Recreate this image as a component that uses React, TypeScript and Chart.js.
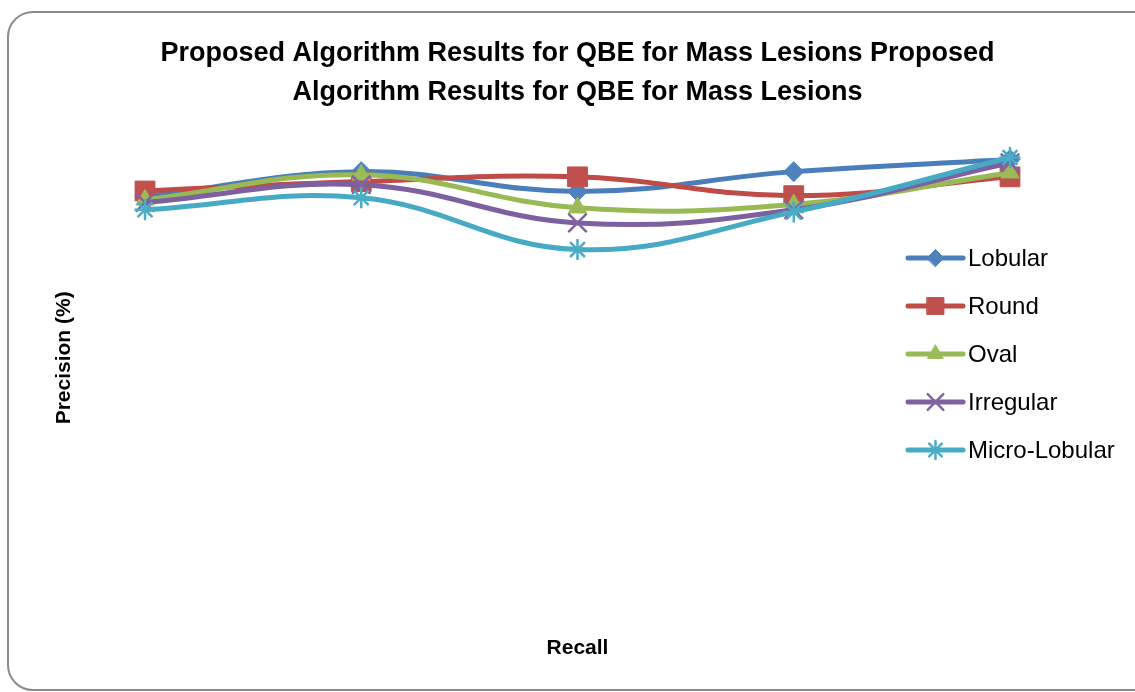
import React, { useEffect, useRef } from "react";
import { Chart, registerables } from "chart.js";
import { drawPoint } from "chart.js/helpers";

Chart.register(...registerables);

const titleLines = [
  "Proposed Algorithm Results for QBE for Mass Lesions Proposed",
  "Algorithm Results for QBE for Mass Lesions",
];
const xTitle = "Recall";
const yTitle = "Precision (%)";

const categories = ["1", "2", "3", "4", "5"];

const seriesNames = ["Lobular", "Round", "Oval", "Irregular", "Micro-Lobular"];
const lobular = [80.8, 85.6, 81.8, 85.6, 87.9];
const round = [81.9, 83.7, 84.6, 81.0, 84.6];
const oval = [80.2, 85.0, 78.7, 79.3, 85.4];
const irregular = [79.7, 83.1, 75.8, 78.3, 87.3];
const microLobular = [78.3, 80.6, 70.7, 77.9, 88.3];
const seriesValues = [lobular, round, oval, irregular, microLobular];

const lineColors = ["#4A7EBB", "#BE4B48", "#98B954", "#7D60A0", "#46AAC5"];
const markerColors = ["#4F81BD", "#C0504D", "#9BBB59", "#8064A2", "#4BACC6"];
const pointStyles = ["rectRot", "rect", "triangle", "crossRot", "star"];
const pointRadii = [10, 14, 10.5, 13, 10.5];
const pointBorderWidths = [1, 1, 1, 2.5, 2.5];

const FONT = "'Liberation Sans', Arial, sans-serif";

const customLegend = {
  id: "customLegend",
  afterDraw(chart: any) {
    const ctx = chart.ctx;
    const x0 = 900;
    const x1 = 955;
    const textX = 960;
    const y0 = 258;
    const step = 48;
    ctx.save();
    chart.data.datasets.forEach((ds: any, i: number) => {
      const y = y0 + step * i;
      ctx.strokeStyle = ds.borderColor;
      ctx.lineWidth = 5;
      ctx.lineCap = "round";
      ctx.beginPath();
      ctx.moveTo(x0, y);
      ctx.lineTo(x1, y);
      ctx.stroke();
      ctx.fillStyle = ds.pointBackgroundColor;
      ctx.strokeStyle = ds.pointBorderColor;
      ctx.lineWidth = ds.pointBorderWidth;
      drawPoint(
        ctx,
        {
          pointStyle: ds.pointStyle,
          radius: ds.pointRadius * 0.85,
          rotation: 0,
          borderWidth: ds.pointBorderWidth,
        } as any,
        (x0 + x1) / 2,
        y
      );
      ctx.fillStyle = "#000";
      ctx.font = `24px ${FONT}`;
      ctx.textBaseline = "middle";
      ctx.textAlign = "left";
      ctx.fillText(ds.label, textX, y + 1);
    });
    ctx.restore();
  },
};

export default function App() {
  const canvasRef = useRef<HTMLCanvasElement | null>(null);

  useEffect(() => {
    if (!canvasRef.current) return;
    const datasets = seriesNames.map((name, i) => ({
      label: name,
      data: seriesValues[i],
      borderColor: lineColors[i],
      backgroundColor: lineColors[i],
      borderWidth: 5,
      pointStyle: pointStyles[i],
      pointRadius: pointRadii[i],
      pointHoverRadius: pointRadii[i],
      pointBackgroundColor: markerColors[i],
      pointBorderColor: markerColors[i],
      pointBorderWidth: pointBorderWidths[i],
      tension: 0.4,
      fill: false,
      clip: false,
      order: seriesNames.length - 1 - i,
    }));
    const chart = new Chart(canvasRef.current, {
      type: "line",
      data: { labels: categories, datasets },
      options: {
        responsive: false,
        animation: false,
        events: [],
        layout: { padding: { left: 0, right: 0, top: 0, bottom: 31.4 } },
        plugins: {
          legend: { display: false },
          tooltip: { enabled: false },
          title: {
            display: true,
            text: titleLines,
            color: "#000",
            font: { family: FONT, size: 27, weight: "bold", lineHeight: 1.45 },
            padding: { top: 34, bottom: -16 },
          },
        },
        scales: {
          x: {
            type: "category",
            offset: false,
            grid: { display: false, drawTicks: false },
            border: { display: false },
            ticks: { display: false },
            title: {
              display: true,
              text: xTitle,
              color: "#000",
              font: { family: FONT, size: 21, weight: "bold", lineHeight: 1.2 },
              padding: { top: 16, bottom: 0 },
            },
          },
          y: {
            min: 0,
            max: 100,
            grid: { display: false, drawTicks: false },
            border: { display: false },
            ticks: { display: false },
            title: {
              display: true,
              text: yTitle,
              color: "#000",
              font: { family: FONT, size: 21, weight: "bold", lineHeight: 1.2 },
              padding: { top: 43.4, bottom: 68.4 },
            },
            afterFit: (scale: any) => {
              scale.width = 137;
            },
          },
          yRight: {
            position: "right",
            min: 0,
            max: 100,
            grid: { display: false, drawTicks: false },
            border: { display: false },
            ticks: { display: false },
            afterFit: (scale: any) => {
              scale.width = 137;
            },
          },
        },
      },
      plugins: [customLegend],
    } as any);
    return () => chart.destroy();
  }, []);

  return (
    <div
      style={{
        position: "fixed",
        left: 0,
        top: 0,
        width: 1135,
        height: 692,
        overflow: "hidden",
        background: "#fff",
      }}
    >
      <div
        style={{
          position: "absolute",
          left: 7,
          top: 11,
          width: 1200,
          height: 680,
          border: "2px solid #8c8c8c",
          borderRadius: 26,
          boxSizing: "border-box",
        }}
      />
      <canvas
        ref={canvasRef}
        width={1139}
        height={692}
        style={{ position: "absolute", left: 8, top: 0, width: 1139, height: 692 }}
      />
    </div>
  );
}
